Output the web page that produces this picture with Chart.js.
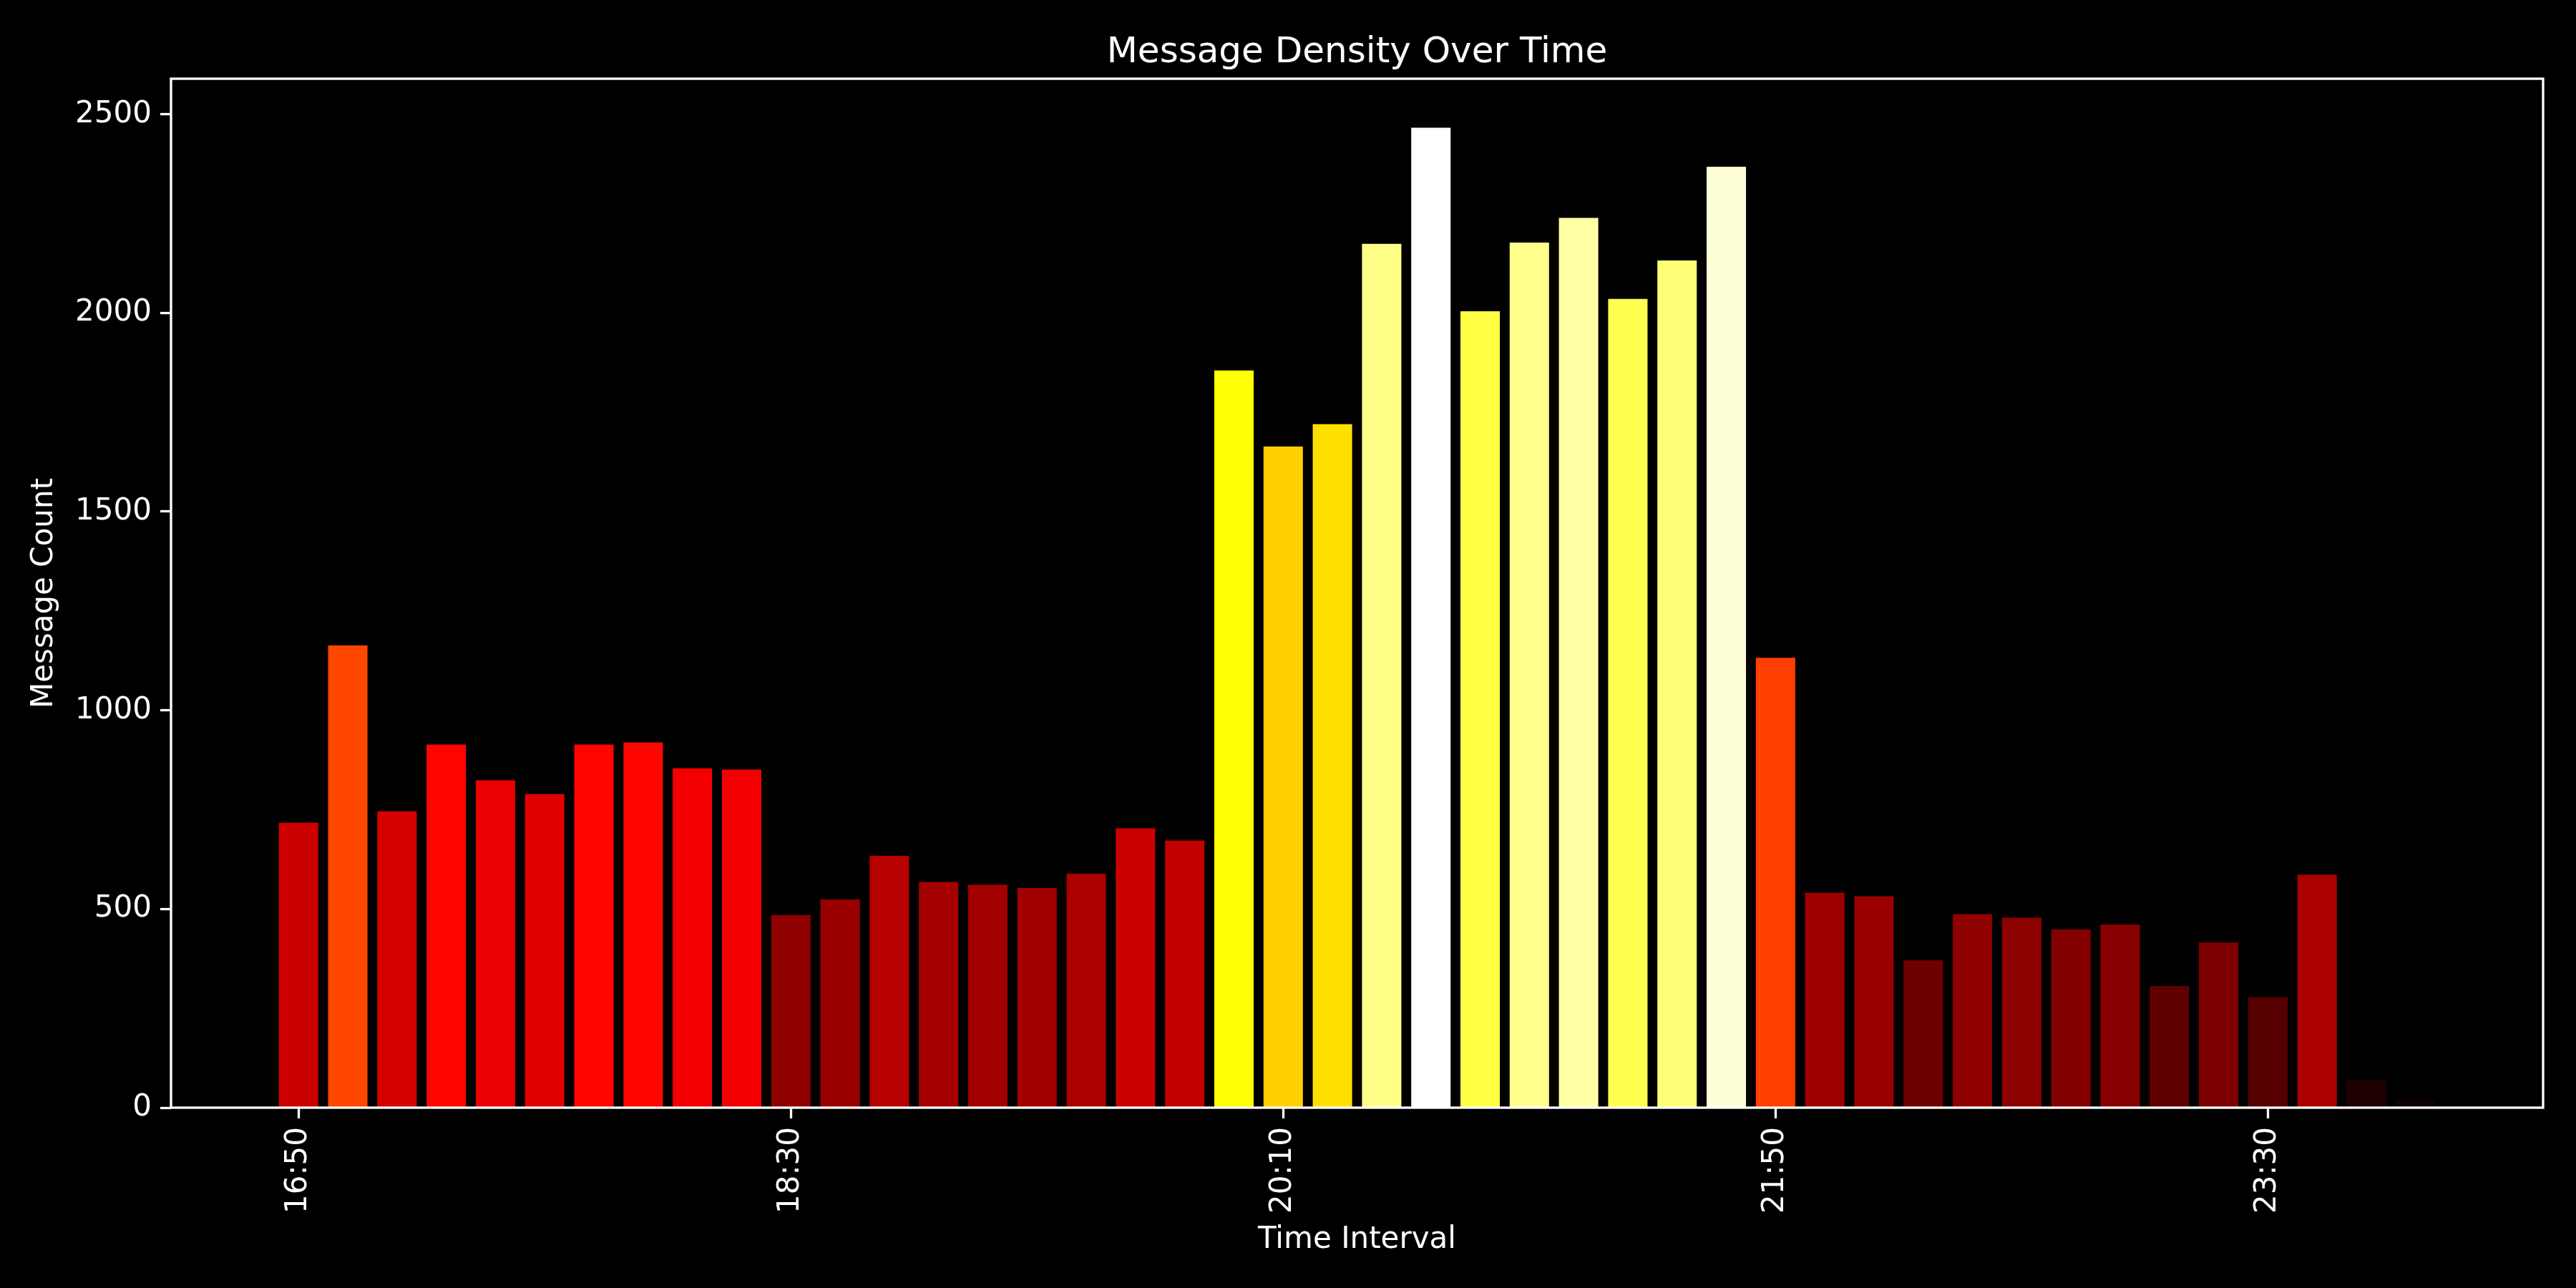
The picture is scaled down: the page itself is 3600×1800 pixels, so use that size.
<!DOCTYPE html>
<html>
<head>
<meta charset="utf-8">
<title>Message Density Over Time</title>
<script src="https://cdn.jsdelivr.net/npm/chart.js@4.4.1/dist/chart.umd.min.js"></script>
<style>
  html, body { margin: 0; padding: 0; background: #000; }
  canvas { display: block; }
</style>
</head>
<body>
<canvas id="chart" width="3600" height="1800"></canvas>
<script>
// 10-minute buckets
const timeLabels = [
  "16:50", "17:00", "17:10", "17:20", "17:30", "17:40", "17:50", "18:00", "18:10", "18:20",
  "18:30", "18:40", "18:50", "19:00", "19:10", "19:20", "19:30", "19:40", "19:50", "20:00",
  "20:10", "20:20", "20:30", "20:40", "20:50", "21:00", "21:10", "21:20", "21:30", "21:40",
  "21:50", "22:00", "22:10", "22:20", "22:30", "22:40", "22:50", "23:00", "23:10", "23:20",
  "23:30", "23:40", "23:50", "00:00"
];
const messageCounts = [
  717, 1163, 746, 914, 824, 789, 914, 919, 854, 851,
  485, 524, 634, 568, 561, 553, 589, 703, 672, 1855,
  1664, 1720, 2174, 2466, 2004, 2177, 2239, 2035, 2132, 2368,
  1132, 541, 532, 371, 487, 478, 449, 461, 306, 416,
  278, 586, 70, 22
];
// every 10th bucket gets a label
const xTickIndex = [0, 10, 20, 30, 40];
const yTicks = [0, 500, 1000, 1500, 2000, 2500];

// matplotlib "hot" colormap
function hot(t) {
  t = Math.max(0, Math.min(1, t));
  const r = t < 0.365079 ? 0.0416 + (1 - 0.0416) * t / 0.365079 : 1;
  const g = t < 0.365079 ? 0 : (t < 0.746032 ? (t - 0.365079) / (0.746032 - 0.365079) : 1);
  const b = t < 0.746032 ? 0 : (t - 0.746032) / (1 - 0.746032);
  return "rgb(" + Math.round(r * 255) + "," + Math.round(g * 255) + "," + Math.round(b * 255) + ")";
}

const maxCount = Math.max(...messageCounts);
const barColors = messageCounts.map((v) => hot(v / maxCount));
const n = messageCounts.length;

// black background + axes frame
const framePlugin = {
  id: "frame",
  beforeDraw(chart) {
    const ctx = chart.ctx;
    ctx.save();
    ctx.fillStyle = "#000";
    ctx.fillRect(0, 0, chart.width, chart.height);
    ctx.restore();
  },
  afterDraw(chart) {
    const { ctx, chartArea: a } = chart;
    ctx.save();
    ctx.strokeStyle = "#fff";
    ctx.lineWidth = 3.3;
    ctx.strokeRect(a.left, a.top, a.right - a.left, a.bottom - a.top);
    ctx.restore();
  },
};

Chart.defaults.font.family = "'DejaVu Sans', sans-serif";
Chart.defaults.color = "#fff";

new Chart(document.getElementById("chart"), {
  type: "bar",
  data: {
    datasets: [
      {
        label: "Message Count",
        data: messageCounts.map((v, i) => ({ x: i, y: v })),
        backgroundColor: barColors,
        borderWidth: 0,
        barPercentage: 0.8,
        categoryPercentage: 1.0,
      },
    ],
  },
  options: {
    responsive: false,
    devicePixelRatio: 1,
    animation: false,
    layout: { padding: { left: 0, right: 46, top: 0, bottom: 0 } },
    plugins: {
      legend: { display: false },
      tooltip: { enabled: false },
      title: {
        display: true,
        fullSize: false,
        text: "Message Density Over Time",
        color: "#fff",
        font: { size: 50, weight: "normal" },
        padding: { top: 44, bottom: 6 },
      },
    },
    scales: {
      x: {
        type: "linear",
        min: -0.4 - 0.05 * (n - 0.2),
        max: n - 0.6 + 0.05 * (n - 0.2),
        offset: false,
        afterBuildTicks: (scale) => {
          scale.ticks = xTickIndex.map((v) => ({ value: v }));
        },
        afterFit: (scale) => {
          scale.height = 252;
        },
        ticks: {
          color: "#fff",
          font: { size: 42 },
          minRotation: 90,
          maxRotation: 90,
          padding: 12,
          autoSkip: false,
          callback: (v) => timeLabels[v],
        },
        grid: {
          display: true,
          offset: false,
          drawOnChartArea: false,
          drawTicks: true,
          tickLength: 15,
          tickWidth: 3.3,
          tickColor: "#fff",
          color: "#fff",
        },
        border: { display: false },
        title: {
          display: true,
          text: "Time Interval",
          color: "#fff",
          font: { size: 42 },
          padding: { top: 0, bottom: 42 },
        },
      },
      y: {
        min: 0,
        max: maxCount * 1.05,
        afterBuildTicks: (scale) => {
          scale.ticks = yTicks.map((v) => ({ value: v }));
        },
        afterFit: (scale) => {
          scale.width = 239;
        },
        ticks: {
          color: "#fff",
          font: { size: 42 },
          padding: 12,
          callback: (v) => String(v),
        },
        grid: {
          display: true,
          offset: false,
          drawOnChartArea: false,
          drawTicks: true,
          tickLength: 15,
          tickWidth: 3.3,
          tickColor: "#fff",
          color: "#fff",
        },
        border: { display: false },
        title: {
          display: true,
          text: "Message Count",
          color: "#fff",
          font: { size: 42 },
          padding: { top: 37, bottom: 0 },
        },
      },
    },
  },
  plugins: [framePlugin],
});
</script>
</body>
</html>
